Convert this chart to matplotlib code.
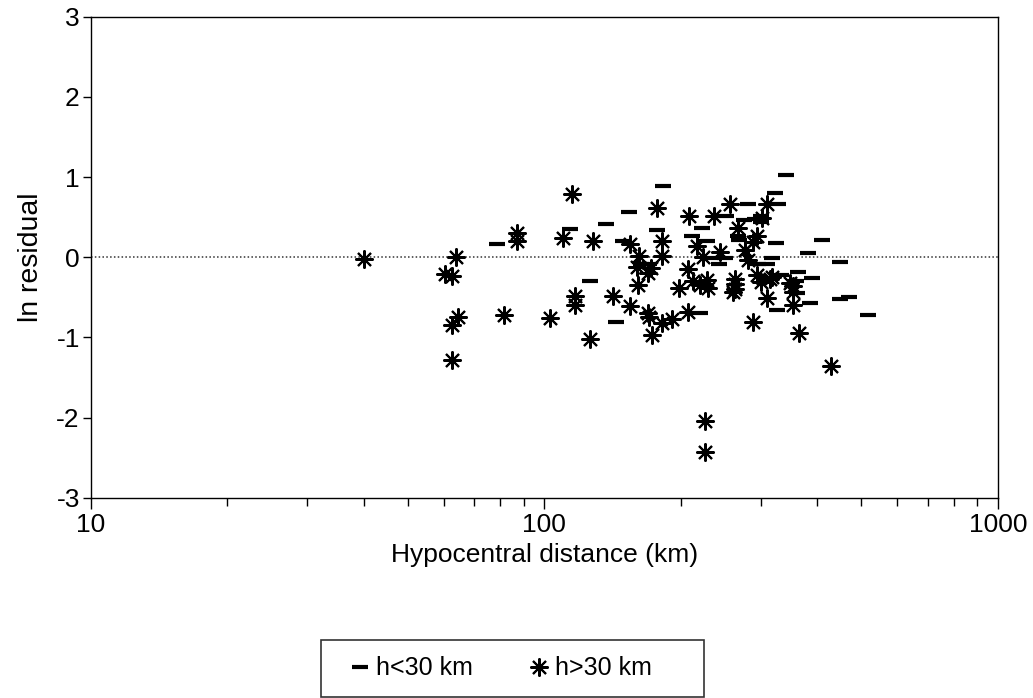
import matplotlib
matplotlib.use("Agg")
import matplotlib.pyplot as plt
from matplotlib.ticker import FixedLocator, NullFormatter, LogLocator

plt.rcParams['font.family'] = ['Liberation Sans', 'DejaVu Sans']

# h < 30 km (dash markers)
shallow_dist = [78.5, 114, 137, 154, 149, 177, 183, 126, 144, 163, 170, 223, 212, 228,
                220, 252, 281, 327, 323, 341, 236, 250, 243, 268, 276, 292, 300, 296,
                324, 318, 409, 381, 449, 333, 363, 390, 358, 360, 385, 449, 470, 326,
                517, 309, 267, 300]
shallow_res = [0.17, 0.35, 0.42, 0.56, 0.20, 0.34, 0.89, -0.30, -0.81, -0.08, -0.08, 0.37,
               0.27, 0.20, -0.70, 0.52, 0.67, 0.67, 0.80, 1.02, -0.01, -0.01, -0.08, 0.21,
               0.46, 0.48, 0.44, -0.08, 0.18, -0.01, 0.21, 0.05, -0.06, -0.22, -0.19,
               -0.26, -0.30, -0.45, -0.57, -0.52, -0.50, -0.66, -0.72, -0.09, 0.27, 0.52]

# h > 30 km (asterisk markers)
deep_dist = [40, 60.5, 62.5, 64, 64.5, 62.5, 62.5, 81.5, 87, 87, 103, 115, 110, 128,
             154.5, 177, 181.5, 162, 181.5, 117, 117, 141.6, 154.5, 126, 160.7, 169, 160,
             172, 169, 170, 181.5, 172.6, 191, 207, 198, 207, 213, 220, 228, 230, 217,
             208, 224, 237, 256, 244, 263, 263, 263, 260, 267, 309, 302, 294, 288, 277,
             281, 294, 300, 318, 314, 348, 354, 354, 309, 354, 288, 364, 428, 226, 226]
deep_res = [-0.02, -0.21, -0.23, 0.0, -0.75, -0.85, -1.28, -0.72, 0.30, 0.20, -0.76, 0.79,
            0.24, 0.20, 0.17, 0.61, 0.20, 0.01, 0.01, -0.49, -0.60, -0.49, -0.61, -1.02,
            -0.35, -0.20, -0.12, -0.14, -0.70, -0.75, -0.82, -0.97, -0.77, -0.68, -0.39,
            -0.15, -0.30, -0.35, -0.29, -0.39, 0.14, 0.52, 0.0, 0.52, 0.67, 0.06, -0.27,
            -0.34, -0.40, -0.44, 0.37, 0.66, 0.49, 0.27, 0.19, 0.09, -0.04, -0.22, -0.31,
            -0.25, -0.27, -0.32, -0.44, -0.36, -0.51, -0.60, -0.81, -0.94, -1.36, -2.04,
            -2.43]

y_ticks = [-3, -2, -1, 0, 1, 2, 3]
x_ticks = [10, 100, 1000]
x_labels = ['10', '100', '1000']

fig = plt.figure(figsize=(10.33, 6.98), dpi=100)
ax = fig.add_axes([0.088, 0.287, 0.878, 0.689])

ax.axhline(0, color='#333333', linestyle=(0, (1, 1.5)), linewidth=1.1, zorder=1)

ax.plot(shallow_dist, shallow_res, linestyle='none', marker='_', markersize=11,
        markeredgewidth=3, color='black', zorder=3)
ax.plot(deep_dist, deep_res, linestyle='none', marker=(8, 2, 0), markersize=13,
        markeredgewidth=1.5, color='black', zorder=3)
ax.plot(deep_dist, deep_res, linestyle='none', marker='o', markersize=3.8,
        color='black', zorder=4)

ax.set_xscale('log')
ax.set_xlim(10, 1000)
ax.set_ylim(-3, 3)
ax.xaxis.set_major_locator(FixedLocator(x_ticks))
ax.set_xticklabels(x_labels)
ax.xaxis.set_minor_locator(LogLocator(base=10, subs=range(2, 10)))
ax.xaxis.set_minor_formatter(NullFormatter())
ax.set_yticks(y_ticks)
ax.set_yticklabels([str(t) for t in y_ticks])

ax.tick_params(axis='both', which='major', direction='out', length=6, width=1,
               labelsize=19, colors='black')
ax.tick_params(axis='y', which='major', pad=2)
ax.tick_params(axis='x', which='minor', direction='out', length=6, width=1)
ax.tick_params(axis='x', which='major', length=8, pad=3)
for s in ax.spines.values():
    s.set_linewidth(1.0)
    s.set_color('black')

ax.set_xlabel('Hypocentral distance (km)', fontsize=19, labelpad=4)
ax.set_ylabel('ln residual', fontsize=20.5, labelpad=9)

h1, = ax.plot([], [], linestyle='none', marker='_', markersize=11, markeredgewidth=3,
              color='black')
h2, = ax.plot([], [], linestyle='none', marker=(8, 2, 0), markersize=13,
              markeredgewidth=1.5, color='black')
leg = fig.legend([h1, h2], ['h<30 km', 'h>30 km     '], loc='center',
                 bbox_to_anchor=(0.496, 0.0425), ncol=2, fontsize=18, frameon=True,
                 fancybox=False, edgecolor='black', handlelength=1.8,
                 handletextpad=-0.25, columnspacing=1.75, borderpad=0.65)
leg.get_frame().set_linewidth(1.2)

fig.savefig('out.png', dpi=100, facecolor='white')
